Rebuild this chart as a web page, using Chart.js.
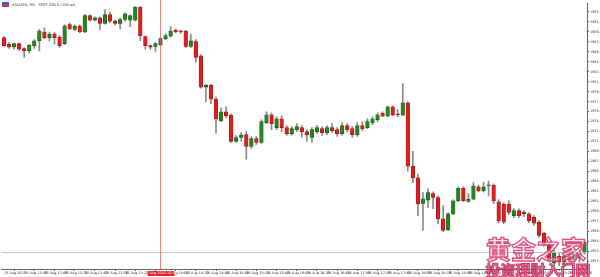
<!DOCTYPE html>
<html><head><meta charset="utf-8">
<script src="https://cdn.jsdelivr.net/npm/chart.js@4/dist/chart.umd.min.js"></script>
<style>html,body{margin:0;padding:0;background:#fff;overflow:hidden}#wrap{width:600px;height:277px;position:relative}</style>
</head><body><div id="wrap"><canvas id="c" width="600" height="277"></canvas></div>
<script>
const opens=[1988.70,1987.58,1987.15,1987.70,1986.86,1986.48,1987.31,1988.15,1989.65,1988.70,
1989.36,1988.81,1987.70,1990.91,1990.08,1990.65,1989.65,1992.41,1991.65,1992.03,
1991.08,1992.58,1991.48,1991.08,1991.75,1991.65,1991.65,1993.86,1988.86,1987.36,
1987.20,1987.53,1988.53,1988.95,1989.95,1989.78,1989.81,1987.20,1988.03,1985.65,
1980.36,1980.65,1978.31,1974.70,1976.20,1975.65,1971.20,1971.86,1972.36,1970.36,
1971.70,1971.03,1974.36,1975.70,1973.53,1975.03,1973.53,1972.53,1973.20,1973.53,
1972.86,1971.86,1972.86,1973.36,1972.70,1973.53,1973.20,1972.53,1973.86,1973.36,
1972.36,1973.86,1973.53,1974.36,1974.86,1975.92,1975.48,1977.03,1975.86,1975.65,
1977.70,1967.03,1965.08,1960.75,1961.31,1962.41,1961.75,1958.15,1956.31,1958.98,
1961.20,1963.31,1961.08,1961.48,1963.53,1962.86,1963.70,1963.81,1961.03,1960.65,
1960.65,1958.70,1959.53,1959.25,1958.98,1958.41,1957.58,1955.70,1953.86,1950.70,
1951.86,1950.86,1951.86,1951.20,1951.53,1952.36];
const highs=[1988.86,1987.86,1987.78,1987.78,1987.03,1987.53,1988.36,1990.08,1990.36,1989.65,
1989.53,1989.03,1990.86,1991.20,1990.86,1990.86,1992.61,1992.53,1992.20,1992.20,
1993.41,1992.98,1991.70,1991.95,1992.86,1992.53,1993.95,1993.95,1988.95,1987.45,
1987.86,1988.70,1989.36,1990.61,1990.20,1989.95,1989.95,1989.25,1988.36,1985.86,
1980.78,1980.78,1978.70,1976.86,1977.03,1975.86,1972.20,1972.70,1972.86,1972.03,
1972.03,1974.86,1976.20,1976.03,1975.36,1975.53,1973.86,1973.70,1974.20,1973.86,
1973.20,1973.53,1973.86,1973.70,1973.86,1974.20,1973.53,1974.36,1974.20,1973.70,
1974.36,1974.53,1975.03,1975.36,1976.03,1976.20,1977.20,1977.20,1976.53,1980.91,
1977.86,1969.53,1965.70,1962.58,1963.20,1962.70,1962.03,1960.36,1959.20,1961.36,
1963.53,1963.53,1962.41,1964.25,1963.86,1964.36,1964.53,1964.03,1961.36,1960.86,
1961.20,1959.86,1959.86,1959.53,1959.20,1958.70,1957.86,1955.86,1953.98,1952.86,
1952.36,1952.03,1952.20,1952.70,1952.86,1954.53];
const lows=[1987.20,1986.86,1986.75,1986.53,1985.36,1986.08,1986.90,1986.48,1988.53,1988.15,
1987.58,1987.03,1987.53,1990.03,1989.86,1989.53,1989.53,1991.53,1991.53,1990.08,
1990.95,1991.20,1990.86,1990.20,1991.53,1990.53,1991.53,1988.20,1986.75,1986.70,
1986.36,1987.36,1988.36,1988.78,1989.53,1989.36,1987.03,1987.03,1984.53,1980.20,
1977.86,1977.58,1972.58,1974.53,1975.20,1971.03,1971.03,1971.20,1968.20,1970.03,
1970.70,1970.86,1974.20,1973.20,1973.20,1972.86,1972.20,1972.20,1972.86,1971.86,
1971.20,1971.03,1972.53,1972.20,1972.36,1972.70,1972.03,1972.20,1972.86,1971.86,
1972.03,1973.03,1973.36,1974.03,1974.53,1975.36,1975.36,1975.53,1975.36,1975.53,
1966.20,1964.25,1958.70,1956.20,1960.08,1959.86,1957.36,1956.03,1956.20,1958.86,
1961.03,1961.03,1960.95,1961.36,1962.70,1962.70,1962.03,1960.70,1957.53,1957.36,
1958.86,1958.36,1958.36,1958.53,1957.53,1957.03,1955.03,1953.53,1950.86,1950.10,
1950.20,1950.53,1950.86,1950.86,1950.86,1952.20];
const closes=[1987.36,1987.15,1987.70,1986.75,1986.48,1987.41,1988.15,1989.81,1988.70,1989.25,
1988.70,1987.31,1990.70,1990.20,1990.65,1989.65,1992.41,1991.65,1992.03,1991.08,
1992.58,1991.48,1991.08,1991.75,1992.70,1992.41,1993.86,1988.98,1987.36,1987.11,
1987.70,1988.53,1989.03,1989.81,1989.70,1989.66,1987.20,1988.15,1985.36,1980.36,
1980.65,1978.31,1974.98,1976.20,1975.53,1971.20,1971.86,1972.31,1970.36,1971.70,
1971.03,1974.53,1975.70,1974.20,1975.03,1973.53,1972.53,1973.36,1973.70,1972.86,
1972.36,1973.20,1973.53,1972.70,1973.53,1973.03,1972.53,1973.86,1973.20,1972.36,
1973.86,1973.36,1974.53,1975.03,1975.70,1975.48,1977.03,1975.65,1975.70,1977.70,
1967.03,1965.08,1960.65,1961.53,1962.58,1961.75,1958.15,1956.20,1958.98,1961.20,
1963.31,1961.20,1961.48,1963.70,1962.86,1963.53,1963.81,1961.20,1957.86,1957.58,
1959.25,1959.53,1958.70,1958.98,1957.86,1957.41,1955.36,1953.98,1951.20,1952.36,
1950.86,1951.86,1951.20,1952.20,1952.53,1954.20];

const yTickLabels=["1993.03","1991.35","1989.67","1987.99","1986.31","1984.63","1982.95","1981.27","1979.59","1977.91",
"1976.23","1974.55","1972.87","1971.19","1969.51","1967.83","1966.15","1964.47","1962.79","1961.11",
"1959.43","1957.75","1956.07","1954.39","1952.71","1951.03"];
const xTickLabels=["25 Aug 2023","25 Aug 11:40","25 Aug 12:00","25 Aug 12:20","25 Aug 12:40","25 Aug 13:00","25 Aug 13:20","25 Aug 13:40",
"25 Aug 14:00","25 Aug 14:20","25 Aug 14:40","25 Aug 15:00","25 Aug 15:20","25 Aug 15:40","25 Aug 16:00","25 Aug 16:20",
"25 Aug 16:40","25 Aug 17:00","25 Aug 17:20","25 Aug 17:40","25 Aug 18:00","25 Aug 18:20","25 Aug 18:40","25 Aug 19:00",
"25 Aug 19:20","25 Aug 19:40","25 Aug 20:00","25 Aug 20:20","25 Aug 20:40"];
const titleText="XAUUSD, M5:  SPOT GOLD (100 oz)";
const markerIndex=31;
const markerLabel="25 Aug 2023 12:35";
const bidLevel=1952.53;
const watermark1="黄金之家";
const watermark2="投资理财入门网";

const GREEN='#23861f', RED='#dc1e1e';
const labels=opens.map((_,i)=>i);
const bodies=opens.map((o,i)=>[o,closes[i]]);
const wicks=opens.map((o,i)=>[lows[i],highs[i]]);
const bodyColors=opens.map((o,i)=>closes[i]>=o?GREEN:RED);
const bodyBorders=opens.map((o,i)=>closes[i]>=o?'#16561a':'#a01515');

const overlay={
  id:'overlay',
  afterDatasetsDraw(chart){
    const ctx=chart.ctx, ca=chart.chartArea, xs=chart.scales.x, ys=chart.scales.y;
    ctx.save();
    // bid line
    const by=Math.round(ys.getPixelForValue(bidLevel))+0.5;
    ctx.strokeStyle='#c9c9c9'; ctx.lineWidth=1;
    ctx.beginPath(); ctx.moveTo(ca.left,by); ctx.lineTo(ca.right,by); ctx.stroke();
    // vertical marker
    const mx=Math.round(xs.getPixelForValue(markerIndex))+0.5;
    ctx.strokeStyle='rgba(225,90,90,0.75)';
    ctx.beginPath(); ctx.moveTo(mx,0); ctx.lineTo(mx,ca.bottom+1); ctx.stroke();
    ctx.restore();
  },
  afterDraw(chart){
    const ctx=chart.ctx, ca=chart.chartArea, xs=chart.scales.x;
    ctx.save();
    // title + flag
    ctx.fillStyle='#3a5fb0'; ctx.fillRect(2,2,7,5);
    ctx.fillStyle='#d33'; ctx.fillRect(2,5,7,2);
    ctx.fillStyle='#333'; ctx.font='3.6px "DejaVu Sans"'; ctx.textBaseline='middle'; ctx.textAlign='left';
    ctx.fillText(titleText,12,4.6);
    // marker time label
    const mx=xs.getPixelForValue(markerIndex);
    ctx.fillStyle='#e02828'; ctx.fillRect(mx-13,ca.bottom+2,27,5);
    ctx.fillStyle='#fff'; ctx.textAlign='center'; ctx.font='3.4px "DejaVu Sans"';
    ctx.fillText(markerLabel,mx,ca.bottom+4.6);
    // watermark
    ctx.textAlign='center'; ctx.textBaseline='alphabetic';
    ctx.font='bold 25px "Noto Sans CJK SC"';
    ctx.lineWidth=1.3; ctx.strokeStyle='rgba(214,60,115,0.9)'; ctx.fillStyle='rgba(255,215,228,0.55)';
    ctx.fillText(watermark1,536,259); ctx.strokeText(watermark1,536,259);
    ctx.font='bold 15px "Noto Sans CJK SC"';
    ctx.lineWidth=1; ctx.fillStyle='rgba(232,105,150,0.85)'; ctx.strokeStyle='rgba(190,30,80,0.8)';
    ctx.fillText(watermark2,538,276); ctx.strokeText(watermark2,538,276);
    ctx.restore();
  }
};

new Chart(document.getElementById('c'),{
  type:'bar',
  data:{labels:labels,datasets:[
    {label:'wick',data:wicks,backgroundColor:'#8a8a8a',barThickness:1,grouped:false,order:2,borderWidth:0},
    {label:'body',data:bodies,backgroundColor:bodyColors,borderColor:bodyBorders,borderWidth:0.6,borderSkipped:false,barThickness:3.6,minBarLength:1,grouped:false,order:1}
  ]},
  options:{
    responsive:false,animation:false,devicePixelRatio:1,
    layout:{padding:{left:1.5,right:0,top:0,bottom:0}},
    plugins:{legend:{display:false},tooltip:{enabled:false}},
    scales:{
      x:{type:'category',offset:true,
        grid:{drawOnChartArea:false,tickLength:2,color:'#666'},
        border:{display:true,color:'#666',width:1},
        afterBuildTicks:s=>{s.ticks=s.ticks.filter(t=>t.value%4===0);},
        afterFit:s=>{s.height=8;},
        ticks:{autoSkip:false,maxRotation:0,minRotation:0,align:'start',padding:0,color:'#333',
          font:{size:3.4,family:'DejaVu Sans'},callback:v=>xTickLabels[v/4]||''}
      },
      y:{position:'right',min:1949.70,max:1994.53,
        grid:{drawOnChartArea:false,tickLength:2,color:'#666'},
        border:{display:true,color:'#666',width:1},
        afterBuildTicks:s=>{s.ticks=yTickLabels.map(t=>({value:parseFloat(t)}));},
        afterFit:s=>{s.width=13;},
        ticks:{padding:1,color:'#333',font:{size:3.4,family:'DejaVu Sans'},callback:v=>v.toFixed(2)}
      }
    }
  },
  plugins:[overlay]
});
</script></body></html>
